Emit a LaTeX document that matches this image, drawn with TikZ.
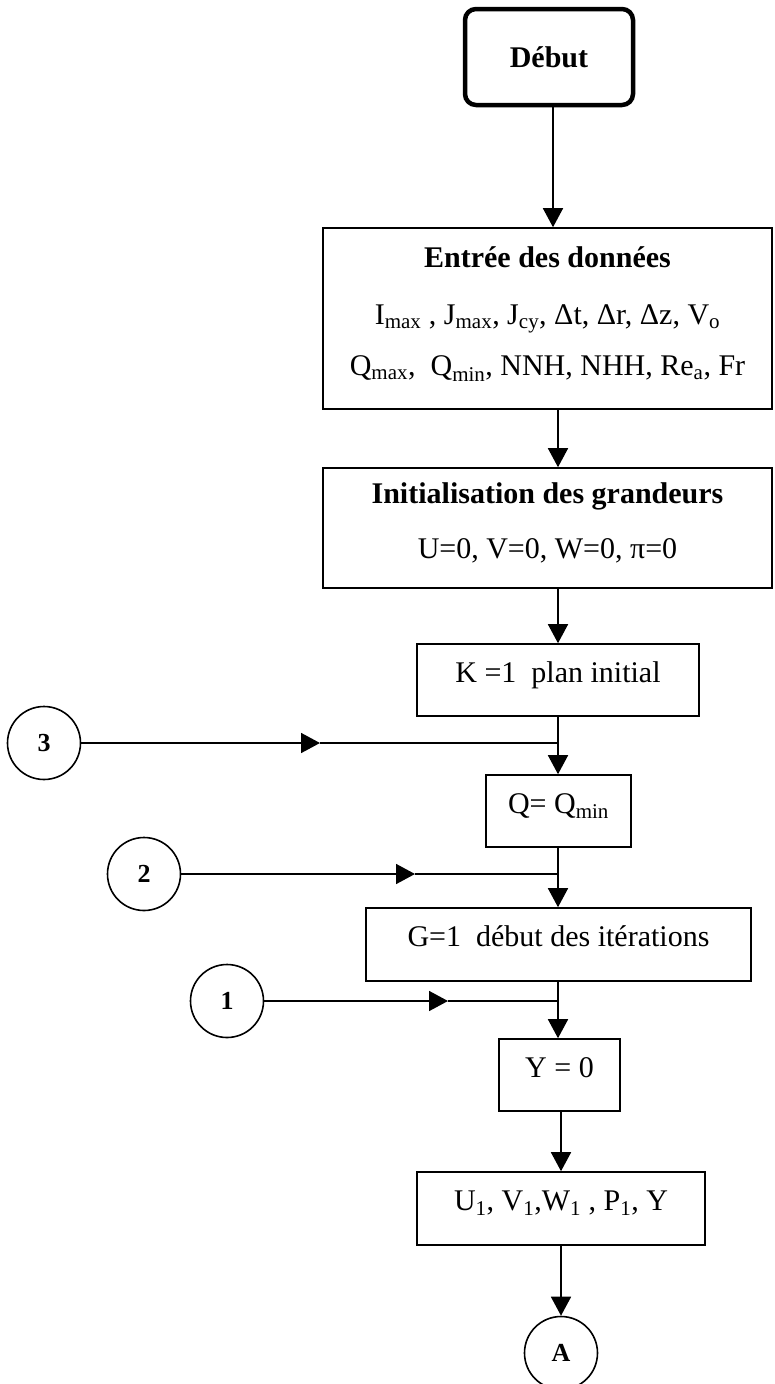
\documentclass[tikz,border=0pt]{standalone}
\usepackage{fontspec}
\setmainfont{Liberation Serif}
\usetikzlibrary{positioning}
\usetikzlibrary{arrows.meta}

\begin{document}
\begin{tikzpicture}[x = 1pt, y = -1pt,
		bloc/.style = {draw, rectangle, line width = 1.6pt, inner sep = 0pt, font = \fontsize{30}{36}\selectfont},
		ligne/.style = {text height = 22pt, text depth = 18pt},
		renvoi/.style = {draw, circle, line width = 1.6pt, minimum size = 73pt, inner sep = 0pt, font = \fontsize{26}{30}\selectfont\bfseries},
		fleche/.style = {line width = 1.6pt, -{Triangle[length = 19pt, width = 20pt]}},
		trait/.style = {line width = 1.6pt}]
	\useasboundingbox (0, 0) rectangle (774, 1384);
	\node[bloc, rounded corners = 11pt, line width = 4.5pt, minimum width = 168pt, minimum height = 96pt, font = \fontsize{30}{36}\selectfont\bfseries] (debut) at (549, 57) {Début};
	\node[bloc, align = center, minimum width = 449pt, minimum height = 181pt] (entree) at (547.5, 318.5) {\textbf{Entrée des données}\\[21pt]I\textsubscript{max} , J\textsubscript{max}, J\textsubscript{cy}, Δt, Δr, Δz, V\textsubscript{o}\\[15pt]Q\textsubscript{max}, \ Q\textsubscript{min}, NNH, NHH, Re\textsubscript{a}, Fr\\[-22pt]};
	\node[bloc, align = center, minimum width = 449pt, minimum height = 120pt] (init) at (547.5, 528) {\textbf{Initialisation des grandeurs}\\[19pt]U=0, V=0, W=0, π=0\\[-22pt]};
	\node[bloc, ligne, minimum width = 282pt, minimum height = 72pt] (plan) at (558, 680) {K =1 \ plan initial};
	\node[bloc, ligne, minimum width = 145pt, minimum height = 72pt] (debit) at (558.5, 811) {Q= Q\textsubscript{min}};
	\node[bloc, ligne, minimum width = 385pt, minimum height = 73pt] (iter) at (558.5, 944.5) {G=1 \ début des itérations};
	\node[bloc, ligne, minimum width = 121pt, minimum height = 72pt] (zero) at (559.5, 1075) {Y = 0};
	\node[bloc, ligne, minimum width = 288pt, minimum height = 73pt] (calcul) at (561, 1208.5) {U\textsubscript{1}, V\textsubscript{1},W\textsubscript{1} , P\textsubscript{1}, Y};
	\node[renvoi] (suite) at (561, 1353) {A};
	\node[renvoi] (r3) at (44, 743) {3};
	\node[renvoi] (r2) at (144, 874) {2};
	\node[renvoi] (r1) at (227, 1001) {1};
	\coordinate (j3) at (558, 743);
	\coordinate (j2) at (558, 874);
	\coordinate (j1) at (558, 1001);
	\coordinate (f3) at (320, 743);
	\coordinate (f2) at (415, 874);
	\coordinate (f1) at (448, 1001);
	\draw[fleche] ([xshift = 4pt]debut.south) -- ([xshift = 4pt]debut.south |- entree.north);
	\draw[fleche] (entree.south -| plan) -- (init.north -| plan);
	\draw[fleche] (init.south -| plan) -- (plan.north);
	\draw[fleche] (plan) -- (debit.north -| plan);
	\draw[fleche] (debit.south -| plan) -- (iter.north -| plan);
	\draw[fleche] (iter.south -| plan) -- (zero.north -| plan);
	\draw[fleche] (zero.south -| calcul) -- (calcul);
	\draw[fleche] (calcul) -- (suite);
	\draw[fleche] (r3) -- (f3);
	\draw[trait] (f3) -- (j3);
	\draw[fleche] (r2) -- (f2);
	\draw[trait] (f2) -- (j2);
	\draw[fleche] (r1) -- (f1);
	\draw[trait] (f1) -- (j1);
\end{tikzpicture}
\end{document}
